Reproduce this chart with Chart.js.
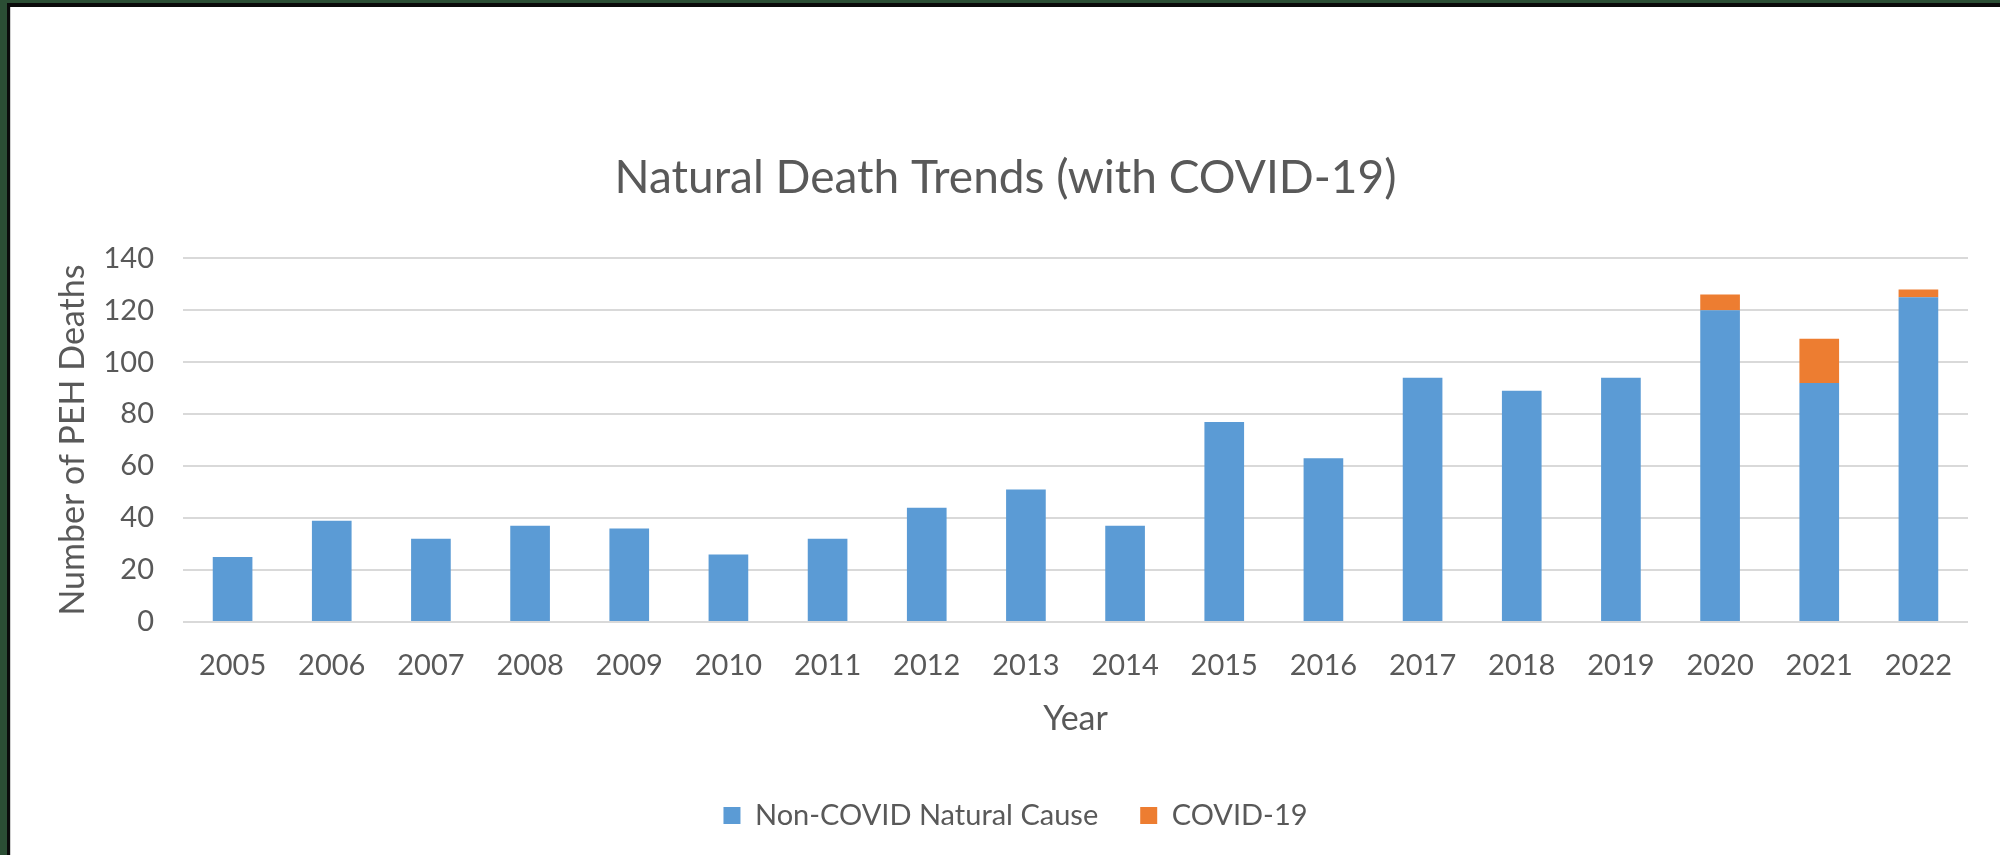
<!DOCTYPE html>
<html>
<head>
<meta charset="utf-8">
<script src="https://cdn.jsdelivr.net/npm/chart.js@4"></script>
<style>
  html, body { margin: 0; padding: 0; }
  body { width: 2000px; height: 855px; background: #2b4e34; position: relative; overflow: hidden; }
  #frame { position: absolute; left: 7px; top: 3px; right: 0; bottom: 0; background: #0a0a0a; }
  #sheet { position: absolute; left: 10px; top: 7px; right: 0; bottom: 0; background: #fff; border-left: 1px solid #d0d0d0; }
  #box { position: absolute; left: 11px; top: 7px; width: 1989px; height: 848px; }
</style>
</head>
<body>
<div id="frame"></div>
<div id="sheet"></div>
<div id="box"><canvas id="deathChart"></canvas></div>
<script>
const years = ['2005', '2006', '2007', '2008', '2009', '2010', '2011', '2012', '2013',
               '2014', '2015', '2016', '2017', '2018', '2019', '2020', '2021', '2022'];
const nonCovid = [25, 39, 32, 37, 36, 26, 32, 44, 51, 37, 77, 63, 94, 89, 94, 120, 92, 125];
const covid = [null, null, null, null, null, null, null, null, null,
               null, null, null, null, null, null, 6, 17, 3];
const yTicks = [0, 20, 40, 60, 80, 100, 120, 140];

const textGray = '#595959';
const fontName = 'Lato, Carlito, Calibri, sans-serif';

// nudge the legend a little to the right, like the Excel original
const legendShift = {
    id: 'legendShift',
    afterLayout(chart) {
        chart.legend.left += 10;
        chart.legend.right += 10;
    }
};

const ctx = document.getElementById('deathChart').getContext('2d');
const chart = new Chart(ctx, {
    type: 'bar',
    data: {
        labels: years,
        datasets: [{
            label: 'Non-COVID Natural Cause',
            data: nonCovid,
            backgroundColor: '#5b9bd5',
            borderWidth: 0
        }, {
            label: 'COVID-19',
            data: covid,
            backgroundColor: '#ed7d31',
            borderWidth: 0
        }]
    },
    options: {
        responsive: true,
        maintainAspectRatio: false,
        animation: false,
        barPercentage: 0.4,
        categoryPercentage: 1.0,
        layout: {
            padding: { left: 32, right: 32, top: 0, bottom: 15 }
        },
        scales: {
            x: {
                stacked: true,
                grid: { display: false, drawTicks: false },
                border: { display: false },
                ticks: {
                    color: textGray,
                    font: { family: fontName, size: 29 },
                    padding: 26,
                    maxRotation: 0,
                    autoSkip: false
                },
                title: {
                    display: true,
                    text: 'Year',
                    color: textGray,
                    font: { family: fontName, size: 34 },
                    padding: { top: 0, bottom: 20 }
                },
                afterFit: (scale) => { scale.height = 137; }
            },
            y: {
                stacked: true,
                min: 0,
                max: 140,
                grid: { color: '#d9d9d9', lineWidth: 2, drawTicks: false },
                border: { display: false },
                afterBuildTicks: (scale) => {
                    scale.ticks = yTicks.map(v => ({ value: v }));
                },
                ticks: {
                    color: textGray,
                    font: { family: fontName, size: 29 },
                    padding: 29
                },
                title: {
                    display: true,
                    text: 'Number of PEH Deaths',
                    color: textGray,
                    font: { family: fontName, size: 34 },
                    padding: { top: 10, bottom: 0 }
                },
                afterFit: (scale) => { scale.width = 140; }
            }
        },
        plugins: {
            title: {
                display: true,
                text: 'Natural Death Trends (with COVID-19)',
                color: textGray,
                font: { family: fontName, size: 46, weight: 'normal' },
                padding: { top: 144, bottom: 52 }
            },
            legend: {
                position: 'bottom',
                labels: {
                    color: textGray,
                    font: { family: fontName, size: 29 },
                    boxWidth: 17,
                    boxHeight: 17,
                    padding: 42
                }
            },
            tooltip: { enabled: false }
        }
    },
    plugins: [legendShift]
});
</script>
</body>
</html>
